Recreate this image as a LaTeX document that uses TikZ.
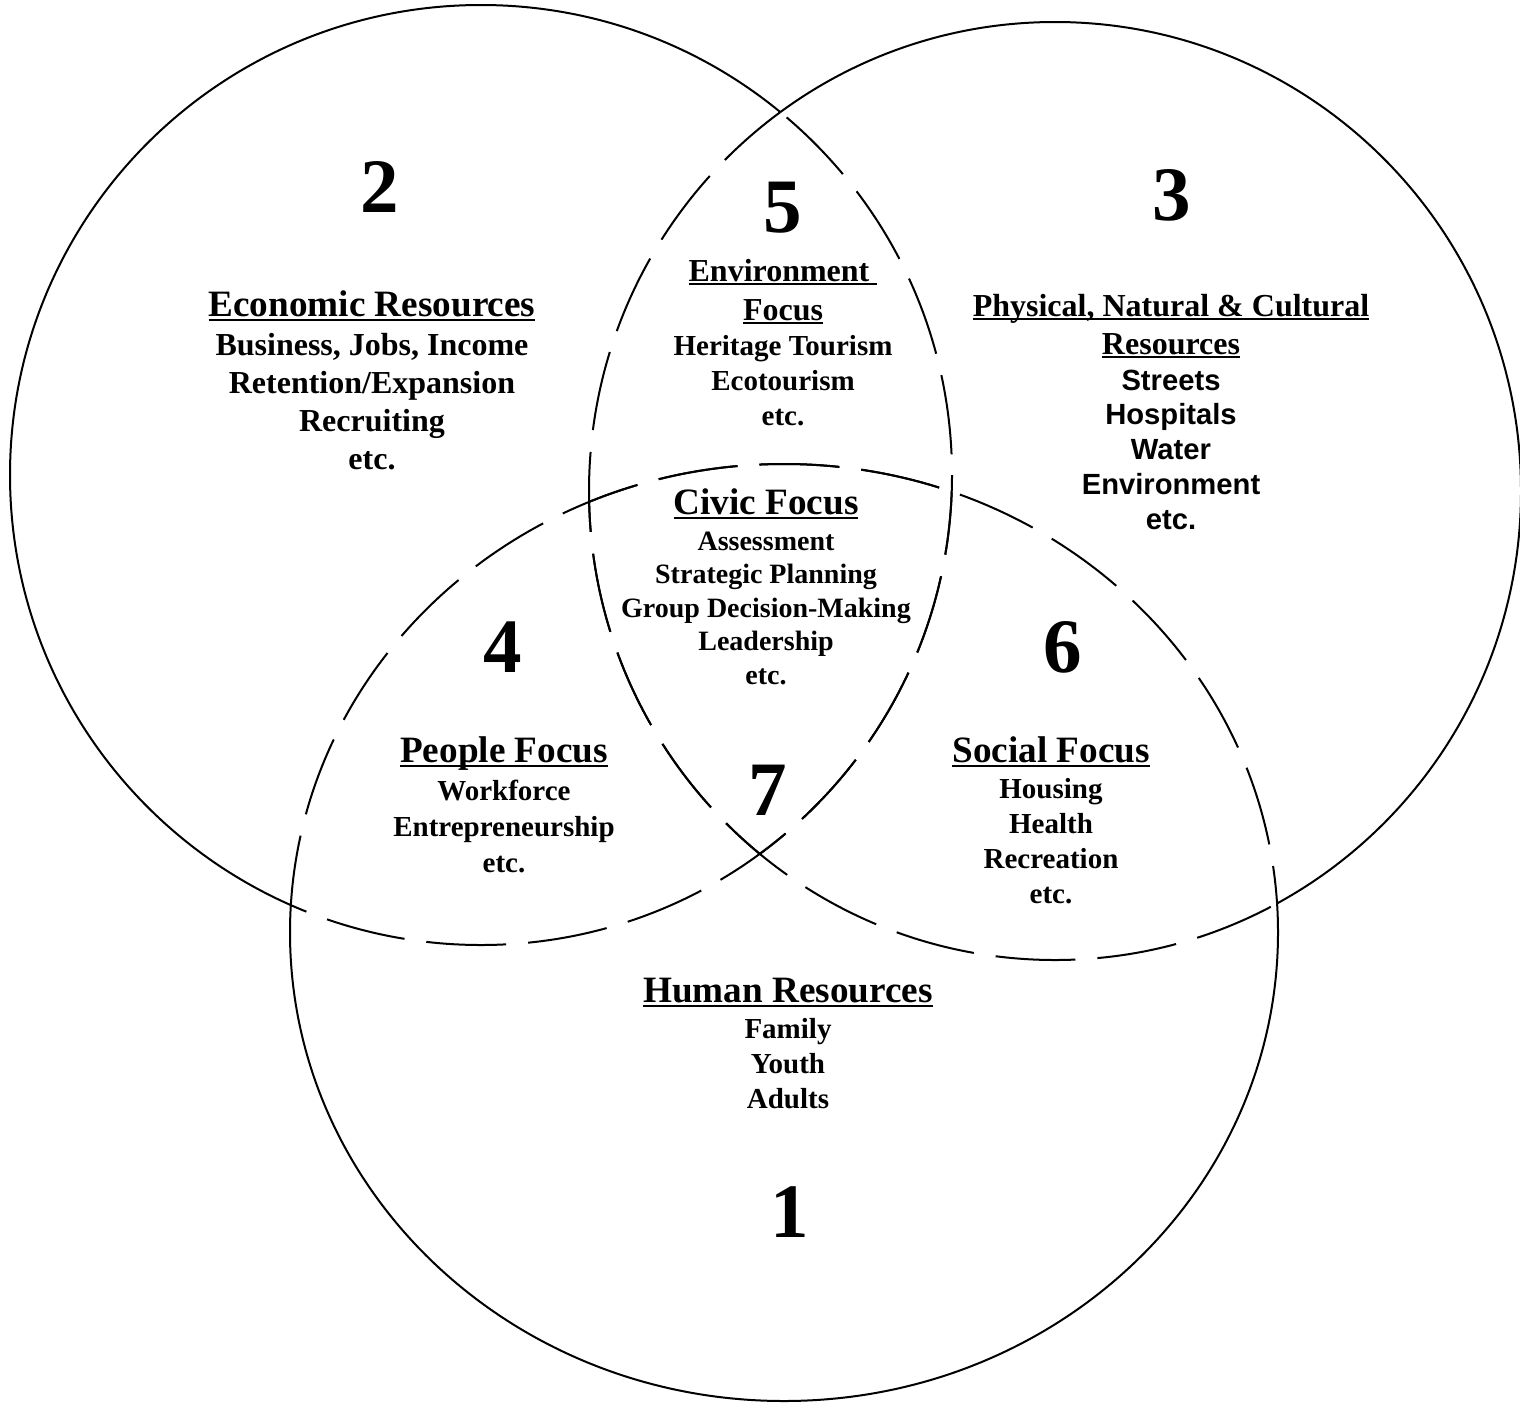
\documentclass[tikz,border=0pt]{standalone}
\usepackage{fontspec}
\setmainfont{Liberation Serif}
\setsansfont{Liberation Sans}
\usetikzlibrary{positioning}

% underlined heading text
\newcommand{\hdul}[1]{\setbox0\hbox{#1}\rlap{\rule[-0.13em]{\wd0}{0.055em}}\box0}

% the three rings
\newcommand{\econring}{(481,475) ellipse [x radius=471, y radius=470]}
\newcommand{\physring}{(1055,491) ellipse [x radius=466, y radius=469]}
\newcommand{\humanring}{(784,932.5) ellipse [x radius=494, y radius=468.5]}
\newcommand{\pagebox}{(-60,-60) rectangle (1580,1460)}

\tikzset{
  ring/.style={line width=1pt},
  innerring/.style={line width=1pt, dash pattern=on 40pt off 11pt},
  bignum/.style={font=\fontsize{38.5}{40}\selectfont\bfseries, inner sep=0pt, anchor=base},
  head/.style={font=\fontsize{18.6}{21}\selectfont\bfseries, inner sep=0pt, anchor=base},
  smallhead/.style={head, font=\fontsize{16}{19}\selectfont\bfseries},
  body/.style={font=\fontsize{14.5}{17.5}\selectfont\bfseries, align=center, inner sep=0pt}
}

\begin{document}
\begin{tikzpicture}[x=0.5pt, y=-0.5pt]
\useasboundingbox (0,0) rectangle (1520,1403);

% solid outer parts
\begin{scope}[even odd rule]
\clip \pagebox \humanring;
\clip \pagebox \physring;
\draw[ring] \econring;
\end{scope}
\begin{scope}[even odd rule]
\clip \pagebox \humanring;
\clip \pagebox \econring;
\draw[ring] \physring;
\end{scope}
\begin{scope}[even odd rule]
\clip \pagebox \econring;
\clip \pagebox \physring;
\draw[ring] \humanring;
\end{scope}

% dashed inner parts
\begin{scope} \clip \humanring; \draw[innerring] \econring; \end{scope}
\begin{scope} \clip \physring; \draw[innerring] \econring; \end{scope}
\begin{scope} \clip \humanring; \draw[innerring] \physring; \end{scope}
\begin{scope} \clip \econring; \draw[innerring] \physring; \end{scope}
\begin{scope} \clip \econring; \draw[innerring] \humanring; \end{scope}
\begin{scope} \clip \physring; \draw[innerring] \humanring; \end{scope}

% region numbers
\node (n2) [bignum] at (380,212) {2};
\node (n3) [bignum] at (1172,220) {3};
\node (n5) [bignum] at (783,232) {5};
\node (n4) [bignum] at (503,672) {4};
\node (n6) [bignum] at (1063,672) {6};
\node (n7) [bignum] at (768,815) {7};
\node (n1) [bignum] at (790,1237) {1};

% economic (body base = last line)
\node (econHead) [head] at (372,316) {\hdul{Economic Resources}};
\node (econBody) [body, font=\fontsize{16}{19}\selectfont\bfseries, below=76.5pt of econHead.base, anchor=base]
  {Business, Jobs, Income\\Retention/Expansion\\Recruiting\\etc.};

% environment
\node (envHead) [smallhead] at (783,281) {\hdul{Environment\ }};
\node (envHead2) [smallhead, below=19.5pt of envHead.base, anchor=base] {\hdul{Focus}};
\node (envBody) [body, below=52.5pt of envHead2.base, anchor=base]
  {Heritage Tourism\\Ecotourism\\etc.};

% physical
\node (physHead) [smallhead] at (1171,316) {\hdul{Physical, Natural \& Cultural}};
\node (physHead2) [smallhead, below=19pt of physHead.base, anchor=base] {\hdul{Resources}};
\node (physBody) [body, font=\fontsize{14.6}{17.4}\selectfont\sffamily\bfseries, below=87.6pt of physHead2.base, anchor=base]
  {Streets\\Hospitals\\Water\\Environment\\etc.};

% civic
\node (civicHead) [head] at (766,514) {\hdul{Civic Focus}};
\node (civicBody) [body, font=\fontsize{14}{16.75}\selectfont\bfseries, below=85pt of civicHead.base, anchor=base]
  {Assessment\\Strategic Planning\\Group Decision-Making\\Leadership\\etc.};

% people
\node (peopleHead) [head] at (504,762) {\hdul{People Focus}};
\node (peopleBody) [body, font=\fontsize{14.5}{18}\selectfont\bfseries, below=55pt of peopleHead.base, anchor=base]
  {Workforce\\Entrepreneurship\\etc.};

% social
\node (socialHead) [head] at (1051,762) {\hdul{Social Focus}};
\node (socialBody) [body, below=70.5pt of socialHead.base, anchor=base]
  {Housing\\Health\\Recreation\\etc.};

% human
\node (humanHead) [head] at (788,1002) {\hdul{Human Resources}};
\node (humanBody) [body, below=53pt of humanHead.base, anchor=base]
  {Family\\Youth\\Adults};
\end{tikzpicture}
\end{document}
